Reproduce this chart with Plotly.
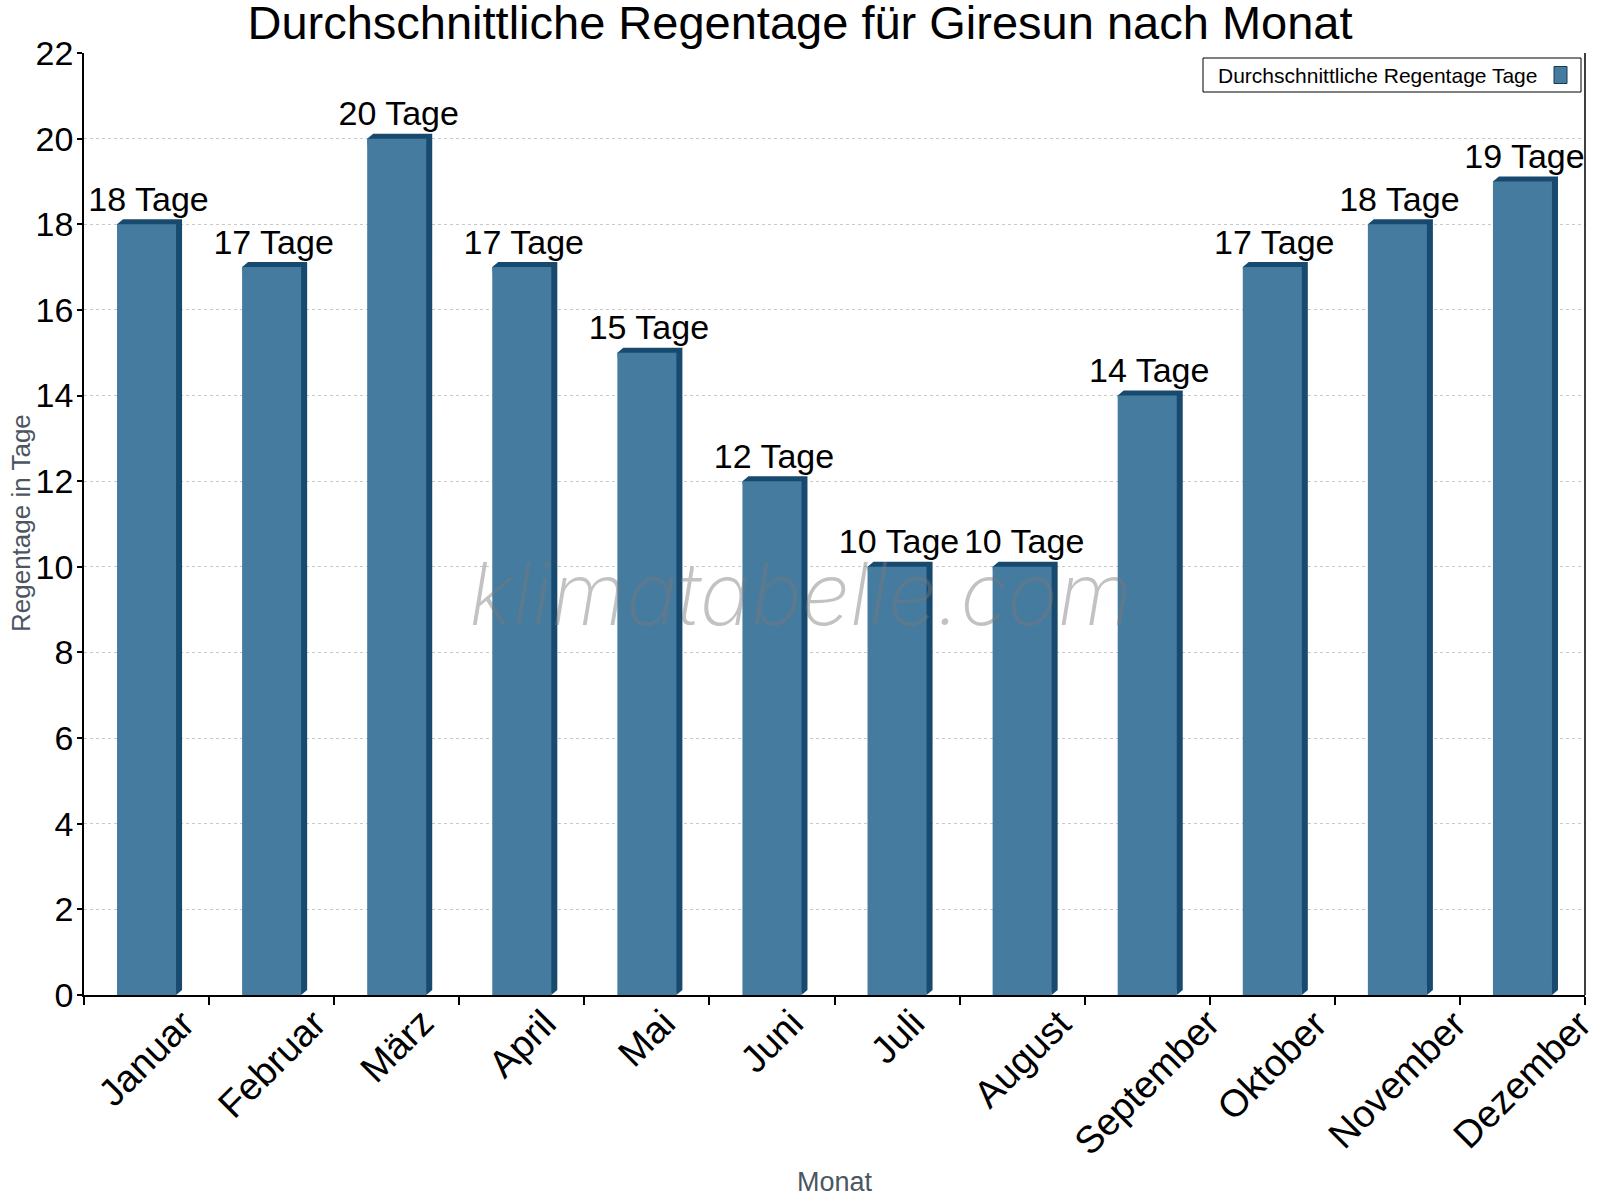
import plotly.graph_objects as go

months = ["Januar", "Februar", "März", "April", "Mai", "Juni", "Juli",
          "August", "September", "Oktober", "November", "Dezember"]
rain_days = [18, 17, 20, 17, 15, 12, 10, 10, 14, 17, 18, 19]
labels = [f"{v} Tage" for v in rain_days]

FRONT = "#467ba0"
DARK = "#174a6e"
HALF = 0.236      # half width of front face (category units)
DX = 0.048        # depth offset in x (category units)
DY = 0.117        # depth offset in y (data units)

idx = list(range(len(months)))

dark_x, dark_y, front_x, front_y = [], [], [], []
for c, v in zip(idx, rain_days):
    dark_x += [c - HALF, c - HALF + DX, c + HALF + DX, c + HALF + DX, c + HALF, c - HALF, None]
    dark_y += [v, v + DY, v + DY, DY, 0, v, None]
    front_x += [c - HALF, c + HALF, c + HALF, c - HALF, c - HALF, None]
    front_y += [0, 0, v, v, 0, None]

FONT = "Arial, Liberation Sans"
L, R, T, B = 84, 15, 53, 205
PW = 1600 - L - R
PH = 1200 - T - B

def px(xp):
    return (xp - L) / PW

def py(yp):
    return (1200 - B - yp) / PH

fig = go.Figure()
fig.add_trace(go.Scatter(x=dark_x, y=dark_y, fill="toself", fillcolor=DARK,
                         mode="lines", line=dict(width=0), hoverinfo="skip",
                         showlegend=False))
fig.add_trace(go.Scatter(x=front_x, y=front_y, fill="toself", fillcolor=FRONT,
                         mode="lines", line=dict(width=0), hoverinfo="skip",
                         showlegend=False))
fig.add_trace(go.Scatter(x=[c + 0.016 for c in idx], y=[v + DY for v in rain_days],
                         mode="text", text=labels, textposition="top center",
                         textfont=dict(size=34, color="black", family=FONT),
                         showlegend=False, hoverinfo="skip"))

fig.update_layout(
    width=1600, height=1200,
    margin=dict(l=L, r=R, t=T, b=B),
    paper_bgcolor="white", plot_bgcolor="white",
    font=dict(family=FONT, color="black"),
    title=dict(text="Durchschnittliche Regentage für Giresun nach Monat",
               x=0.5, xanchor="center", y=1 - 23 / 1200,
               yanchor="middle", yref="container",
               font=dict(size=47, color="black", family=FONT)),
    showlegend=False,
    xaxis=dict(range=[-0.5, 11.5], tickmode="array", tickvals=idx, ticktext=months,
               showticklabels=False, ticks="", automargin=False,
               showline=True, linecolor="black", linewidth=1.5,
               showgrid=False, zeroline=False, fixedrange=True,
               minor=dict(tick0=-0.5, dtick=1, ticks="outside", ticklen=8,
                          tickcolor="black", tickwidth=1.5, showgrid=False)),
    yaxis=dict(range=[0, 22], tick0=0, dtick=2, ticks="outside", ticklen=5,
               tickcolor="black", tickwidth=1.5, automargin=False,
               ticklabelstandoff=-3,
               tickfont=dict(size=34, color="black"),
               showline=True, linecolor="black", linewidth=1.5,
               showgrid=True, gridcolor="#c8c8c8", griddash="dot", gridwidth=1,
               zeroline=False),
)

# x tick labels (rotated, centred under each category)
for c, m in zip(idx, months):
    fig.add_annotation(text=m, xref="x", yref="paper", x=c, y=py(999),
                       xanchor="center", yanchor="top", textangle=-45,
                       showarrow=False, font=dict(size=38, color="black"))

# axis titles
fig.add_annotation(text="Monat", xref="paper", yref="paper",
                   x=0.5, y=py(1182), xanchor="center", yanchor="middle",
                   showarrow=False, font=dict(size=27, color="#4b5662"))
fig.add_annotation(text="Regentage in Tage", xref="paper", yref="paper",
                   x=px(21), y=py(523), xanchor="center", yanchor="middle",
                   textangle=-90, showarrow=False,
                   font=dict(size=26, color="#4b5662"))

# right border of plot area
fig.add_shape(type="line", xref="paper", yref="paper", x0=1, x1=1, y0=0, y1=1,
              line=dict(color="black", width=1.5))

# watermark
fig.add_annotation(text="klimatabelle.com", xref="paper", yref="paper",
                   x=px(800), y=py(594),
                   xanchor="center", yanchor="middle", showarrow=False,
                   font=dict(size=86, color="rgba(120,120,120,0.45)",
                             family="Inter, Liberation Sans", style="italic",
                             weight=200))

# legend box (drawn manually: swatch to the right of the text)
fig.add_shape(type="rect", xref="paper", yref="paper",
              x0=px(1203), x1=px(1581), y0=py(92), y1=py(58),
              line=dict(color="black", width=1), fillcolor="white")
fig.add_shape(type="rect", xref="paper", yref="paper",
              x0=px(1554), x1=px(1567), y0=py(83.5), y1=py(66.5),
              line=dict(color="#1a3a50", width=1), fillcolor=FRONT)
fig.add_annotation(text="Durchschnittliche Regentage Tage", xref="paper", yref="paper",
                   x=px(1216), y=py(75), xanchor="left", yanchor="middle",
                   showarrow=False, font=dict(size=21, color="black"))

fig.write_html("out.html")
